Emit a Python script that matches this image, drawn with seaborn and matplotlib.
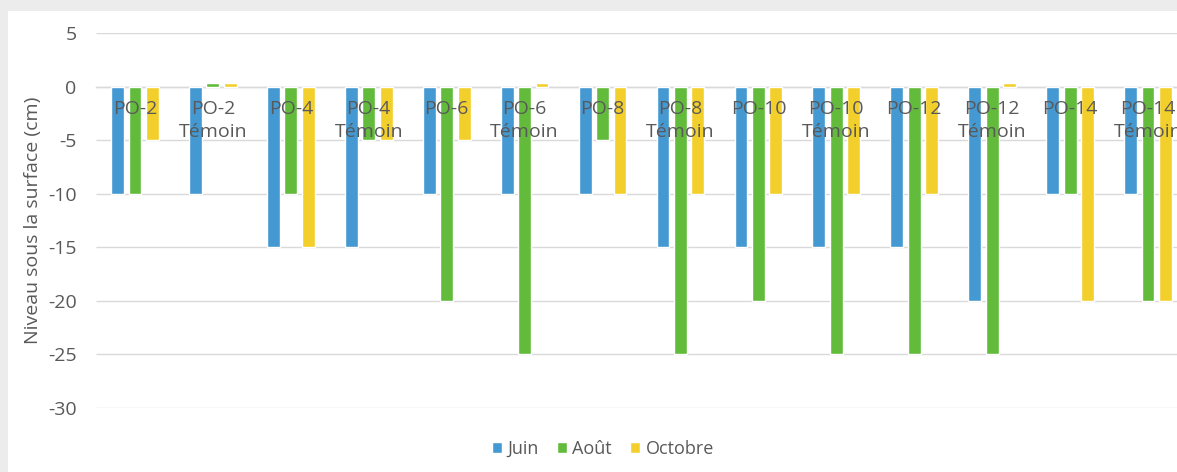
import pandas as pd
import matplotlib.pyplot as plt
import matplotlib.patches as mpatches
import seaborn as sns

# ==========================================
# 1. Data
# ==========================================
categories = ['PO-2', 'PO-2\nTémoin', 'PO-4', 'PO-4\nTémoin', 'PO-6', 'PO-6\nTémoin',
              'PO-8', 'PO-8\nTémoin', 'PO-10', 'PO-10\nTémoin', 'PO-12', 'PO-12\nTémoin',
              'PO-14', 'PO-14\nTémoin']
months = ['Juin', 'Août', 'Octobre']

juin = [-10, -10, -15, -15, -10, -10, -10, -15, -15, -15, -15, -20, -10, -10]
aout = [-10, 0.3, -10, -5, -20, -25, -5, -25, -20, -25, -25, -25, -10, -20]
octobre = [-5, 0.3, -15, -5, -5, 0.3, -10, -10, -10, -10, -10, 0.3, -20, -20]

y_ticks = [5, 0, -5, -10, -15, -20, -25, -30]

df = pd.DataFrame({
    'Site': categories * 3,
    'Mois': [m for m in months for _ in categories],
    'Niveau': juin + aout + octobre,
})

palette = {'Juin': '#4499d2', 'Août': '#62bb3b', 'Octobre': '#f3cf2c'}
text_color = '#595959'
grid_color = '#d9d9d9'

# ==========================================
# 2. Plot
# ==========================================
sns.set_theme(style="white")
plt.rcParams['font.family'] = ['Open Sans', 'DejaVu Sans']
plt.rcParams['axes.unicode_minus'] = False

fig = plt.figure(figsize=(11.77, 4.72), dpi=100)
fig.patch.set_facecolor('#ececec')
# white card of the screenshot
card = mpatches.Rectangle((8 / 1177, 0), 1, (472 - 11) / 472,
                          transform=fig.transFigure,
                          facecolor='white', edgecolor='none', zorder=-5)
fig.add_artist(card)

ax = fig.add_axes([96 / 1177, 64 / 472, 1091 / 1177, 375 / 472])
ax.set_facecolor('none')

sns.barplot(data=df, x='Site', y='Niveau', hue='Mois', order=categories,
            hue_order=months, palette=palette, width=0.67, gap=0.26,
            saturation=1, ax=ax, legend=True, zorder=2)

ax.set_ylim(-30, 5)
ax.set_xlim(-0.5, len(categories) - 0.5)
ax.set_yticks(y_ticks)
# labels on top of the bars, grid lines behind them
ax.set_axisbelow(False)
ax.grid(False)
ax.hlines(y_ticks, -0.5, len(categories) - 0.5, color=grid_color, linewidth=1, zorder=0)

for side in ['left', 'right', 'top']:
    ax.spines[side].set_visible(False)
ax.spines['bottom'].set_position(('data', 0))
ax.spines['bottom'].set_color(grid_color)
ax.spines['bottom'].set_linewidth(1)
ax.spines['bottom'].set_zorder(0)

ax.tick_params(axis='x', length=0, pad=10, labelsize=14, labelcolor=text_color)
ax.tick_params(axis='y', length=0, pad=14, labelsize=14, labelcolor=text_color)
for t in ax.get_xticklabels():
    t.set_linespacing(1.3)
    t.set_verticalalignment('top')

ax.set_xlabel('')
ax.set_ylabel('Niveau sous la surface (cm)', fontsize=14, color=text_color, labelpad=4)

ax.legend(loc='center', bbox_to_anchor=(603 / 1177, 23 / 472), bbox_transform=fig.transFigure,
          ncol=3, frameon=False, fontsize=13, handlelength=0.55, handleheight=0.55,
          handletextpad=0.3, columnspacing=1.0, labelcolor=text_color)

fig.savefig('out.png', dpi=100)
